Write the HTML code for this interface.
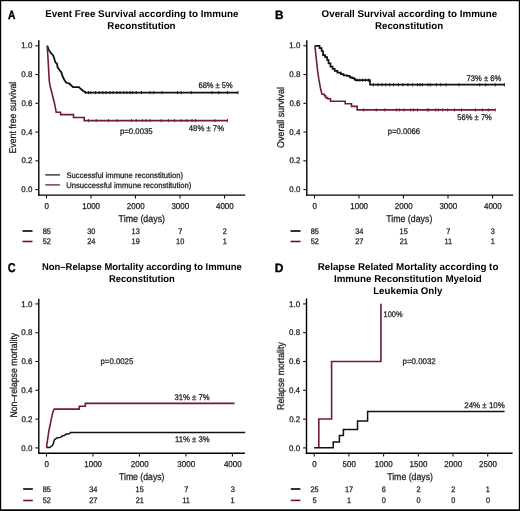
<!DOCTYPE html>
<html><head><meta charset="utf-8"><style>
html,body{margin:0;padding:0;background:#fff;}
svg{display:block;font-family:"Liberation Sans", sans-serif;will-change:transform;text-rendering:geometricPrecision;}
</style></head><body>
<svg width="520" height="511" viewBox="0 0 520 511">
<rect x="0" y="0" width="520" height="511" fill="#fff"/>
<line x1="38.80" y1="40.30" x2="38.80" y2="195.80" stroke="#000" stroke-width="1.4"/>
<line x1="38.10" y1="195.10" x2="245.20" y2="195.10" stroke="#000" stroke-width="1.4"/>
<line x1="35.40" y1="45.80" x2="38.80" y2="45.80" stroke="#111" stroke-width="1.1"/>
<text x="21.36" y="48.40" font-size="8.2" font-weight="normal" textLength="11.06" lengthAdjust="spacingAndGlyphs" fill="#1a1a1a" stroke="#1a1a1a" stroke-width="0.25">1.0</text>
<line x1="35.40" y1="74.56" x2="38.80" y2="74.56" stroke="#111" stroke-width="1.1"/>
<text x="21.36" y="77.16" font-size="8.2" font-weight="normal" textLength="11.06" lengthAdjust="spacingAndGlyphs" fill="#1a1a1a" stroke="#1a1a1a" stroke-width="0.25">0.8</text>
<line x1="35.40" y1="103.32" x2="38.80" y2="103.32" stroke="#111" stroke-width="1.1"/>
<text x="21.40" y="105.92" font-size="8.2" font-weight="normal" textLength="11.06" lengthAdjust="spacingAndGlyphs" fill="#1a1a1a" stroke="#1a1a1a" stroke-width="0.25">0.6</text>
<line x1="35.40" y1="132.08" x2="38.80" y2="132.08" stroke="#111" stroke-width="1.1"/>
<text x="21.28" y="134.68" font-size="8.2" font-weight="normal" textLength="11.06" lengthAdjust="spacingAndGlyphs" fill="#1a1a1a" stroke="#1a1a1a" stroke-width="0.25">0.4</text>
<line x1="35.40" y1="160.84" x2="38.80" y2="160.84" stroke="#111" stroke-width="1.1"/>
<text x="21.44" y="163.44" font-size="8.2" font-weight="normal" textLength="11.06" lengthAdjust="spacingAndGlyphs" fill="#1a1a1a" stroke="#1a1a1a" stroke-width="0.25">0.2</text>
<line x1="35.40" y1="189.60" x2="38.80" y2="189.60" stroke="#111" stroke-width="1.1"/>
<text x="21.36" y="192.20" font-size="8.2" font-weight="normal" textLength="11.06" lengthAdjust="spacingAndGlyphs" fill="#1a1a1a" stroke="#1a1a1a" stroke-width="0.25">0.0</text>
<line x1="46.50" y1="195.10" x2="46.50" y2="198.50" stroke="#111" stroke-width="1.1"/>
<text x="44.58" y="208.60" font-size="8.5" font-weight="normal" textLength="4.44" lengthAdjust="spacingAndGlyphs" fill="#1a1a1a" stroke="#1a1a1a" stroke-width="0.25">0</text>
<line x1="91.00" y1="195.10" x2="91.00" y2="198.50" stroke="#111" stroke-width="1.1"/>
<text x="82.27" y="208.60" font-size="8.5" font-weight="normal" textLength="17.78" lengthAdjust="spacingAndGlyphs" fill="#1a1a1a" stroke="#1a1a1a" stroke-width="0.25">1000</text>
<line x1="135.50" y1="195.10" x2="135.50" y2="198.50" stroke="#111" stroke-width="1.1"/>
<text x="126.87" y="208.60" font-size="8.5" font-weight="normal" textLength="17.78" lengthAdjust="spacingAndGlyphs" fill="#1a1a1a" stroke="#1a1a1a" stroke-width="0.25">2000</text>
<line x1="180.00" y1="195.10" x2="180.00" y2="198.50" stroke="#111" stroke-width="1.1"/>
<text x="171.41" y="208.60" font-size="8.5" font-weight="normal" textLength="17.78" lengthAdjust="spacingAndGlyphs" fill="#1a1a1a" stroke="#1a1a1a" stroke-width="0.25">3000</text>
<line x1="224.50" y1="195.10" x2="224.50" y2="198.50" stroke="#111" stroke-width="1.1"/>
<text x="215.97" y="208.60" font-size="8.5" font-weight="normal" textLength="17.78" lengthAdjust="spacingAndGlyphs" fill="#1a1a1a" stroke="#1a1a1a" stroke-width="0.25">4000</text>
<text x="7.94" y="18.50" font-size="12" font-weight="bold" textLength="7.44" lengthAdjust="spacingAndGlyphs" fill="#000" stroke="#000" stroke-width="0.35">A</text>
<text x="45.16" y="16.90" font-size="9.8" font-weight="bold" textLength="193.21" lengthAdjust="spacingAndGlyphs" fill="#000">Event Free Survival according to Immune</text>
<text x="107.37" y="28.90" font-size="9.8" font-weight="bold" textLength="68.22" lengthAdjust="spacingAndGlyphs" fill="#000">Reconstitution</text>
<text transform="translate(16.30,152.70) rotate(-90)" x="-0.70" y="0" font-size="9.8" textLength="71.67" lengthAdjust="spacingAndGlyphs" fill="#1a1a1a" stroke="#1a1a1a" stroke-width="0.25">Event free survival</text>
<text x="118.58" y="221.90" font-size="9.8" font-weight="normal" textLength="46.47" lengthAdjust="spacingAndGlyphs" fill="#1a1a1a" stroke="#1a1a1a" stroke-width="0.25">Time (days)</text>
<text x="198.52" y="88.00" font-size="8.2" font-weight="normal" textLength="34.15" lengthAdjust="spacingAndGlyphs" fill="#1a1a1a" stroke="#1a1a1a" stroke-width="0.25">68% ± 5%</text>
<text x="188.81" y="131.20" font-size="8.2" font-weight="normal" textLength="35.27" lengthAdjust="spacingAndGlyphs" fill="#1a1a1a" stroke="#1a1a1a" stroke-width="0.25">48% ± 7%</text>
<text x="119.89" y="133.60" font-size="8.2" font-weight="normal" textLength="32.81" lengthAdjust="spacingAndGlyphs" fill="#1a1a1a" stroke="#1a1a1a" stroke-width="0.25">p=0.0035</text>
<text x="66.46" y="178.10" font-size="8" font-weight="normal" textLength="116.53" lengthAdjust="spacingAndGlyphs" fill="#1a1a1a" stroke="#1a1a1a" stroke-width="0.25">Successful immune reconstitution)</text>
<text x="66.23" y="187.70" font-size="8" font-weight="normal" textLength="125.17" lengthAdjust="spacingAndGlyphs" fill="#1a1a1a" stroke="#1a1a1a" stroke-width="0.25">Unsuccessful immune reconstitution)</text>
<line x1="45.20" y1="174.90" x2="59.90" y2="174.90" stroke="#222" stroke-width="1.3"/>
<line x1="45.20" y1="184.90" x2="59.90" y2="184.90" stroke="#731a3a" stroke-width="1.3"/>
<path d="M47.20,45.80 L47.50,46.60 L48.80,49.90 L51.00,53.20 L53.20,55.40 L54.30,58.70 L55.40,62.50 L57.00,63.60 L57.60,67.40 L59.70,70.20 L61.40,72.40 L62.50,76.20 L64.10,79.50 L66.30,82.80 L69.10,83.30 L71.30,85.50 L72.90,87.20 L79.00,87.20 L80.60,88.80 L83.30,91.00 L86.00,92.60 H238.0" fill="none" stroke="#111" stroke-width="1.8" stroke-linejoin="miter" stroke-linecap="butt"/>
<path d="M47.20,45.80 L48.20,61.90 L49.20,80.00 L49.80,84.60 L51.50,91.50 L53.30,98.50 L54.40,103.00 L55.60,108.80 L56.20,112.30 H60.6 V114.6 H73.5 V117.5 H84.2 V120.6 H227.5" fill="none" stroke="#731a3a" stroke-width="1.6" stroke-linejoin="miter" stroke-linecap="butt"/>
<line x1="85.40" y1="91.00" x2="85.40" y2="94.20" stroke="#111" stroke-width="0.9"/>
<line x1="88.50" y1="91.00" x2="88.50" y2="94.20" stroke="#111" stroke-width="0.9"/>
<line x1="90.80" y1="91.00" x2="90.80" y2="94.20" stroke="#111" stroke-width="0.9"/>
<line x1="95.40" y1="91.00" x2="95.40" y2="94.20" stroke="#111" stroke-width="0.9"/>
<line x1="99.20" y1="91.00" x2="99.20" y2="94.20" stroke="#111" stroke-width="0.9"/>
<line x1="102.80" y1="91.00" x2="102.80" y2="94.20" stroke="#111" stroke-width="0.9"/>
<line x1="106.20" y1="91.00" x2="106.20" y2="94.20" stroke="#111" stroke-width="0.9"/>
<line x1="110.00" y1="91.00" x2="110.00" y2="94.20" stroke="#111" stroke-width="0.9"/>
<line x1="113.00" y1="91.00" x2="113.00" y2="94.20" stroke="#111" stroke-width="0.9"/>
<line x1="116.90" y1="91.00" x2="116.90" y2="94.20" stroke="#111" stroke-width="0.9"/>
<line x1="120.00" y1="91.00" x2="120.00" y2="94.20" stroke="#111" stroke-width="0.9"/>
<line x1="123.80" y1="91.00" x2="123.80" y2="94.20" stroke="#111" stroke-width="0.9"/>
<line x1="126.90" y1="91.00" x2="126.90" y2="94.20" stroke="#111" stroke-width="0.9"/>
<line x1="130.00" y1="91.00" x2="130.00" y2="94.20" stroke="#111" stroke-width="0.9"/>
<line x1="132.30" y1="91.00" x2="132.30" y2="94.20" stroke="#111" stroke-width="0.9"/>
<line x1="136.20" y1="91.00" x2="136.20" y2="94.20" stroke="#111" stroke-width="0.9"/>
<line x1="141.50" y1="91.00" x2="141.50" y2="94.20" stroke="#111" stroke-width="0.9"/>
<line x1="150.00" y1="91.00" x2="150.00" y2="94.20" stroke="#111" stroke-width="0.9"/>
<line x1="153.75" y1="91.00" x2="153.75" y2="94.20" stroke="#111" stroke-width="0.9"/>
<line x1="162.00" y1="91.00" x2="162.00" y2="94.20" stroke="#111" stroke-width="0.9"/>
<line x1="177.50" y1="91.00" x2="177.50" y2="94.20" stroke="#111" stroke-width="0.9"/>
<line x1="181.25" y1="91.00" x2="181.25" y2="94.20" stroke="#111" stroke-width="0.9"/>
<line x1="191.25" y1="91.00" x2="191.25" y2="94.20" stroke="#111" stroke-width="0.9"/>
<line x1="212.00" y1="91.00" x2="212.00" y2="94.20" stroke="#111" stroke-width="0.9"/>
<line x1="218.75" y1="91.00" x2="218.75" y2="94.20" stroke="#111" stroke-width="0.9"/>
<line x1="227.50" y1="91.00" x2="227.50" y2="94.20" stroke="#111" stroke-width="0.9"/>
<line x1="238.00" y1="91.00" x2="238.00" y2="94.20" stroke="#111" stroke-width="0.9"/>
<line x1="88.50" y1="119.00" x2="88.50" y2="122.20" stroke="#731a3a" stroke-width="0.9"/>
<line x1="96.20" y1="119.00" x2="96.20" y2="122.20" stroke="#731a3a" stroke-width="0.9"/>
<line x1="108.50" y1="119.00" x2="108.50" y2="122.20" stroke="#731a3a" stroke-width="0.9"/>
<line x1="116.90" y1="119.00" x2="116.90" y2="122.20" stroke="#731a3a" stroke-width="0.9"/>
<line x1="131.50" y1="119.00" x2="131.50" y2="122.20" stroke="#731a3a" stroke-width="0.9"/>
<line x1="136.20" y1="119.00" x2="136.20" y2="122.20" stroke="#731a3a" stroke-width="0.9"/>
<line x1="142.30" y1="119.00" x2="142.30" y2="122.20" stroke="#731a3a" stroke-width="0.9"/>
<line x1="146.20" y1="119.00" x2="146.20" y2="122.20" stroke="#731a3a" stroke-width="0.9"/>
<line x1="150.00" y1="119.00" x2="150.00" y2="122.20" stroke="#731a3a" stroke-width="0.9"/>
<line x1="161.25" y1="119.00" x2="161.25" y2="122.20" stroke="#731a3a" stroke-width="0.9"/>
<line x1="168.75" y1="119.00" x2="168.75" y2="122.20" stroke="#731a3a" stroke-width="0.9"/>
<line x1="174.50" y1="119.00" x2="174.50" y2="122.20" stroke="#731a3a" stroke-width="0.9"/>
<line x1="181.25" y1="119.00" x2="181.25" y2="122.20" stroke="#731a3a" stroke-width="0.9"/>
<line x1="187.00" y1="119.00" x2="187.00" y2="122.20" stroke="#731a3a" stroke-width="0.9"/>
<line x1="192.00" y1="119.00" x2="192.00" y2="122.20" stroke="#731a3a" stroke-width="0.9"/>
<line x1="195.50" y1="119.00" x2="195.50" y2="122.20" stroke="#731a3a" stroke-width="0.9"/>
<line x1="215.00" y1="119.00" x2="215.00" y2="122.20" stroke="#731a3a" stroke-width="0.9"/>
<line x1="227.50" y1="119.00" x2="227.50" y2="122.20" stroke="#731a3a" stroke-width="0.9"/>
<line x1="22.50" y1="231.00" x2="32.50" y2="231.00" stroke="#000" stroke-width="1.6"/>
<line x1="22.50" y1="241.50" x2="32.50" y2="241.50" stroke="#6e1030" stroke-width="1.6"/>
<text x="42.70" y="233.70" font-size="8.0" font-weight="normal" textLength="8.19" lengthAdjust="spacingAndGlyphs" fill="#1a1a1a" stroke="#1a1a1a" stroke-width="0.25">85</text>
<text x="42.75" y="243.80" font-size="8.0" font-weight="normal" textLength="8.19" lengthAdjust="spacingAndGlyphs" fill="#1a1a1a" stroke="#1a1a1a" stroke-width="0.25">52</text>
<text x="87.22" y="233.70" font-size="8.0" font-weight="normal" textLength="8.19" lengthAdjust="spacingAndGlyphs" fill="#1a1a1a" stroke="#1a1a1a" stroke-width="0.25">30</text>
<text x="87.14" y="243.80" font-size="8.0" font-weight="normal" textLength="8.19" lengthAdjust="spacingAndGlyphs" fill="#1a1a1a" stroke="#1a1a1a" stroke-width="0.25">24</text>
<text x="131.60" y="233.70" font-size="8.0" font-weight="normal" textLength="8.19" lengthAdjust="spacingAndGlyphs" fill="#1a1a1a" stroke="#1a1a1a" stroke-width="0.25">13</text>
<text x="131.60" y="243.80" font-size="8.0" font-weight="normal" textLength="8.19" lengthAdjust="spacingAndGlyphs" fill="#1a1a1a" stroke="#1a1a1a" stroke-width="0.25">19</text>
<text x="178.26" y="233.70" font-size="8.0" font-weight="normal" textLength="4.09" lengthAdjust="spacingAndGlyphs" fill="#1a1a1a" stroke="#1a1a1a" stroke-width="0.25">7</text>
<text x="176.09" y="243.80" font-size="8.0" font-weight="normal" textLength="8.19" lengthAdjust="spacingAndGlyphs" fill="#1a1a1a" stroke="#1a1a1a" stroke-width="0.25">10</text>
<text x="222.76" y="233.70" font-size="8.0" font-weight="normal" textLength="4.09" lengthAdjust="spacingAndGlyphs" fill="#1a1a1a" stroke="#1a1a1a" stroke-width="0.25">2</text>
<text x="222.67" y="243.80" font-size="8.0" font-weight="normal" textLength="4.09" lengthAdjust="spacingAndGlyphs" fill="#1a1a1a" stroke="#1a1a1a" stroke-width="0.25">1</text>
<line x1="306.80" y1="40.30" x2="306.80" y2="195.80" stroke="#000" stroke-width="1.4"/>
<line x1="306.10" y1="195.10" x2="513.20" y2="195.10" stroke="#000" stroke-width="1.4"/>
<line x1="303.40" y1="45.80" x2="306.80" y2="45.80" stroke="#111" stroke-width="1.1"/>
<text x="289.36" y="48.40" font-size="8.2" font-weight="normal" textLength="11.06" lengthAdjust="spacingAndGlyphs" fill="#1a1a1a" stroke="#1a1a1a" stroke-width="0.25">1.0</text>
<line x1="303.40" y1="74.56" x2="306.80" y2="74.56" stroke="#111" stroke-width="1.1"/>
<text x="289.36" y="77.16" font-size="8.2" font-weight="normal" textLength="11.06" lengthAdjust="spacingAndGlyphs" fill="#1a1a1a" stroke="#1a1a1a" stroke-width="0.25">0.8</text>
<line x1="303.40" y1="103.32" x2="306.80" y2="103.32" stroke="#111" stroke-width="1.1"/>
<text x="289.40" y="105.92" font-size="8.2" font-weight="normal" textLength="11.06" lengthAdjust="spacingAndGlyphs" fill="#1a1a1a" stroke="#1a1a1a" stroke-width="0.25">0.6</text>
<line x1="303.40" y1="132.08" x2="306.80" y2="132.08" stroke="#111" stroke-width="1.1"/>
<text x="289.28" y="134.68" font-size="8.2" font-weight="normal" textLength="11.06" lengthAdjust="spacingAndGlyphs" fill="#1a1a1a" stroke="#1a1a1a" stroke-width="0.25">0.4</text>
<line x1="303.40" y1="160.84" x2="306.80" y2="160.84" stroke="#111" stroke-width="1.1"/>
<text x="289.44" y="163.44" font-size="8.2" font-weight="normal" textLength="11.06" lengthAdjust="spacingAndGlyphs" fill="#1a1a1a" stroke="#1a1a1a" stroke-width="0.25">0.2</text>
<line x1="303.40" y1="189.60" x2="306.80" y2="189.60" stroke="#111" stroke-width="1.1"/>
<text x="289.36" y="192.20" font-size="8.2" font-weight="normal" textLength="11.06" lengthAdjust="spacingAndGlyphs" fill="#1a1a1a" stroke="#1a1a1a" stroke-width="0.25">0.0</text>
<line x1="314.50" y1="195.10" x2="314.50" y2="198.50" stroke="#111" stroke-width="1.1"/>
<text x="312.58" y="208.60" font-size="8.5" font-weight="normal" textLength="4.44" lengthAdjust="spacingAndGlyphs" fill="#1a1a1a" stroke="#1a1a1a" stroke-width="0.25">0</text>
<line x1="359.00" y1="195.10" x2="359.00" y2="198.50" stroke="#111" stroke-width="1.1"/>
<text x="350.27" y="208.60" font-size="8.5" font-weight="normal" textLength="17.78" lengthAdjust="spacingAndGlyphs" fill="#1a1a1a" stroke="#1a1a1a" stroke-width="0.25">1000</text>
<line x1="403.50" y1="195.10" x2="403.50" y2="198.50" stroke="#111" stroke-width="1.1"/>
<text x="394.87" y="208.60" font-size="8.5" font-weight="normal" textLength="17.78" lengthAdjust="spacingAndGlyphs" fill="#1a1a1a" stroke="#1a1a1a" stroke-width="0.25">2000</text>
<line x1="448.00" y1="195.10" x2="448.00" y2="198.50" stroke="#111" stroke-width="1.1"/>
<text x="439.41" y="208.60" font-size="8.5" font-weight="normal" textLength="17.78" lengthAdjust="spacingAndGlyphs" fill="#1a1a1a" stroke="#1a1a1a" stroke-width="0.25">3000</text>
<line x1="492.50" y1="195.10" x2="492.50" y2="198.50" stroke="#111" stroke-width="1.1"/>
<text x="483.97" y="208.60" font-size="8.5" font-weight="normal" textLength="17.78" lengthAdjust="spacingAndGlyphs" fill="#1a1a1a" stroke="#1a1a1a" stroke-width="0.25">4000</text>
<text x="275.03" y="18.50" font-size="12" font-weight="bold" textLength="8.52" lengthAdjust="spacingAndGlyphs" fill="#000" stroke="#000" stroke-width="0.35">B</text>
<text x="321.61" y="16.90" font-size="9.8" font-weight="bold" textLength="175.64" lengthAdjust="spacingAndGlyphs" fill="#000">Overall Survival according to Immune</text>
<text x="374.97" y="28.90" font-size="9.8" font-weight="bold" textLength="68.22" lengthAdjust="spacingAndGlyphs" fill="#000">Reconstitution</text>
<text transform="translate(284.30,147.50) rotate(-90)" x="-0.40" y="0" font-size="9.8" textLength="60.88" lengthAdjust="spacingAndGlyphs" fill="#1a1a1a" stroke="#1a1a1a" stroke-width="0.25">Overall survival</text>
<text x="386.18" y="221.90" font-size="9.8" font-weight="normal" textLength="46.16" lengthAdjust="spacingAndGlyphs" fill="#1a1a1a" stroke="#1a1a1a" stroke-width="0.25">Time (days)</text>
<text x="466.42" y="80.90" font-size="8.2" font-weight="normal" textLength="34.96" lengthAdjust="spacingAndGlyphs" fill="#1a1a1a" stroke="#1a1a1a" stroke-width="0.25">73% ± 6%</text>
<text x="457.30" y="119.80" font-size="8.2" font-weight="normal" textLength="34.58" lengthAdjust="spacingAndGlyphs" fill="#1a1a1a" stroke="#1a1a1a" stroke-width="0.25">56% ± 7%</text>
<text x="387.70" y="134.40" font-size="8.2" font-weight="normal" textLength="32.34" lengthAdjust="spacingAndGlyphs" fill="#1a1a1a" stroke="#1a1a1a" stroke-width="0.25">p=0.0066</text>
<path d="M314.70,45.90 H318.20 V45.90 H319.60 V48.20 H321.60 V51.00 H323.00 V55.10 H325.10 V57.10 H327.10 V59.90 H328.50 V63.30 H330.50 V66.70 H332.60 V68.80 H334.70 V70.80 H337.40 V72.60 H340.80 V74.20 H343.60 V75.30 H347.00 V75.90 H349.70 V77.30 H352.00 V78.20 H354.30 V79.20 H355.20 V80.20 H370.00 V84.60 H504.70" fill="none" stroke="#111" stroke-width="1.7" stroke-linejoin="miter" stroke-linecap="butt"/>
<path d="M314.90,46.20 L316.20,57.80 L317.50,70.10 L318.90,79.70 L320.70,89.30 L322.00,94.30 H324.4 V95.8 H325.6 V97.6 H327.6 V98.8 H330.5 V101.2 H345.2 V103.7 H351.5 V106.4 H357.2 V109.9 H495.2" fill="none" stroke="#731a3a" stroke-width="1.6" stroke-linejoin="miter" stroke-linecap="butt"/>
<line x1="357.00" y1="78.60" x2="357.00" y2="81.80" stroke="#111" stroke-width="0.9"/>
<line x1="359.80" y1="78.60" x2="359.80" y2="81.80" stroke="#111" stroke-width="0.9"/>
<line x1="362.70" y1="78.60" x2="362.70" y2="81.80" stroke="#111" stroke-width="0.9"/>
<line x1="365.60" y1="78.60" x2="365.60" y2="81.80" stroke="#111" stroke-width="0.9"/>
<line x1="368.50" y1="78.60" x2="368.50" y2="81.80" stroke="#111" stroke-width="0.9"/>
<line x1="373.30" y1="83.20" x2="373.30" y2="86.40" stroke="#111" stroke-width="0.9"/>
<line x1="378.00" y1="83.20" x2="378.00" y2="86.40" stroke="#111" stroke-width="0.9"/>
<line x1="381.90" y1="83.20" x2="381.90" y2="86.40" stroke="#111" stroke-width="0.9"/>
<line x1="385.80" y1="83.20" x2="385.80" y2="86.40" stroke="#111" stroke-width="0.9"/>
<line x1="389.60" y1="83.20" x2="389.60" y2="86.40" stroke="#111" stroke-width="0.9"/>
<line x1="393.50" y1="83.20" x2="393.50" y2="86.40" stroke="#111" stroke-width="0.9"/>
<line x1="398.30" y1="83.20" x2="398.30" y2="86.40" stroke="#111" stroke-width="0.9"/>
<line x1="403.00" y1="83.20" x2="403.00" y2="86.40" stroke="#111" stroke-width="0.9"/>
<line x1="407.90" y1="83.20" x2="407.90" y2="86.40" stroke="#111" stroke-width="0.9"/>
<line x1="412.70" y1="83.20" x2="412.70" y2="86.40" stroke="#111" stroke-width="0.9"/>
<line x1="417.50" y1="83.20" x2="417.50" y2="86.40" stroke="#111" stroke-width="0.9"/>
<line x1="420.00" y1="83.20" x2="420.00" y2="86.40" stroke="#111" stroke-width="0.9"/>
<line x1="422.30" y1="83.20" x2="422.30" y2="86.40" stroke="#111" stroke-width="0.9"/>
<line x1="428.10" y1="83.20" x2="428.10" y2="86.40" stroke="#111" stroke-width="0.9"/>
<line x1="430.40" y1="83.20" x2="430.40" y2="86.40" stroke="#111" stroke-width="0.9"/>
<line x1="436.40" y1="83.20" x2="436.40" y2="86.40" stroke="#111" stroke-width="0.9"/>
<line x1="440.80" y1="83.20" x2="440.80" y2="86.40" stroke="#111" stroke-width="0.9"/>
<line x1="446.00" y1="83.20" x2="446.00" y2="86.40" stroke="#111" stroke-width="0.9"/>
<line x1="458.90" y1="83.20" x2="458.90" y2="86.40" stroke="#111" stroke-width="0.9"/>
<line x1="479.70" y1="83.20" x2="479.70" y2="86.40" stroke="#111" stroke-width="0.9"/>
<line x1="485.70" y1="83.20" x2="485.70" y2="86.40" stroke="#111" stroke-width="0.9"/>
<line x1="495.30" y1="83.20" x2="495.30" y2="86.40" stroke="#111" stroke-width="0.9"/>
<line x1="504.40" y1="83.20" x2="504.40" y2="86.40" stroke="#111" stroke-width="0.9"/>
<line x1="363.70" y1="108.30" x2="363.70" y2="111.50" stroke="#731a3a" stroke-width="0.9"/>
<line x1="376.20" y1="108.30" x2="376.20" y2="111.50" stroke="#731a3a" stroke-width="0.9"/>
<line x1="384.80" y1="108.30" x2="384.80" y2="111.50" stroke="#731a3a" stroke-width="0.9"/>
<line x1="396.30" y1="108.30" x2="396.30" y2="111.50" stroke="#731a3a" stroke-width="0.9"/>
<line x1="399.20" y1="108.30" x2="399.20" y2="111.50" stroke="#731a3a" stroke-width="0.9"/>
<line x1="404.00" y1="108.30" x2="404.00" y2="111.50" stroke="#731a3a" stroke-width="0.9"/>
<line x1="410.80" y1="108.30" x2="410.80" y2="111.50" stroke="#731a3a" stroke-width="0.9"/>
<line x1="413.70" y1="108.30" x2="413.70" y2="111.50" stroke="#731a3a" stroke-width="0.9"/>
<line x1="417.50" y1="108.30" x2="417.50" y2="111.50" stroke="#731a3a" stroke-width="0.9"/>
<line x1="427.10" y1="108.30" x2="427.10" y2="111.50" stroke="#731a3a" stroke-width="0.9"/>
<line x1="428.70" y1="108.30" x2="428.70" y2="111.50" stroke="#731a3a" stroke-width="0.9"/>
<line x1="435.60" y1="108.30" x2="435.60" y2="111.50" stroke="#731a3a" stroke-width="0.9"/>
<line x1="438.20" y1="108.30" x2="438.20" y2="111.50" stroke="#731a3a" stroke-width="0.9"/>
<line x1="442.50" y1="108.30" x2="442.50" y2="111.50" stroke="#731a3a" stroke-width="0.9"/>
<line x1="447.70" y1="108.30" x2="447.70" y2="111.50" stroke="#731a3a" stroke-width="0.9"/>
<line x1="454.60" y1="108.30" x2="454.60" y2="111.50" stroke="#731a3a" stroke-width="0.9"/>
<line x1="461.50" y1="108.30" x2="461.50" y2="111.50" stroke="#731a3a" stroke-width="0.9"/>
<line x1="475.40" y1="108.30" x2="475.40" y2="111.50" stroke="#731a3a" stroke-width="0.9"/>
<line x1="482.30" y1="108.30" x2="482.30" y2="111.50" stroke="#731a3a" stroke-width="0.9"/>
<line x1="488.30" y1="108.30" x2="488.30" y2="111.50" stroke="#731a3a" stroke-width="0.9"/>
<line x1="495.30" y1="108.30" x2="495.30" y2="111.50" stroke="#731a3a" stroke-width="0.9"/>
<line x1="290.50" y1="231.00" x2="300.50" y2="231.00" stroke="#000" stroke-width="1.6"/>
<line x1="290.50" y1="241.50" x2="300.50" y2="241.50" stroke="#6e1030" stroke-width="1.6"/>
<text x="310.70" y="233.70" font-size="8.0" font-weight="normal" textLength="8.19" lengthAdjust="spacingAndGlyphs" fill="#1a1a1a" stroke="#1a1a1a" stroke-width="0.25">85</text>
<text x="310.75" y="243.80" font-size="8.0" font-weight="normal" textLength="8.19" lengthAdjust="spacingAndGlyphs" fill="#1a1a1a" stroke="#1a1a1a" stroke-width="0.25">52</text>
<text x="355.18" y="233.70" font-size="8.0" font-weight="normal" textLength="8.19" lengthAdjust="spacingAndGlyphs" fill="#1a1a1a" stroke="#1a1a1a" stroke-width="0.25">34</text>
<text x="355.22" y="243.80" font-size="8.0" font-weight="normal" textLength="8.19" lengthAdjust="spacingAndGlyphs" fill="#1a1a1a" stroke="#1a1a1a" stroke-width="0.25">27</text>
<text x="399.59" y="233.70" font-size="8.0" font-weight="normal" textLength="8.19" lengthAdjust="spacingAndGlyphs" fill="#1a1a1a" stroke="#1a1a1a" stroke-width="0.25">15</text>
<text x="399.72" y="243.80" font-size="8.0" font-weight="normal" textLength="8.19" lengthAdjust="spacingAndGlyphs" fill="#1a1a1a" stroke="#1a1a1a" stroke-width="0.25">21</text>
<text x="446.26" y="233.70" font-size="8.0" font-weight="normal" textLength="4.09" lengthAdjust="spacingAndGlyphs" fill="#1a1a1a" stroke="#1a1a1a" stroke-width="0.25">7</text>
<text x="444.40" y="243.80" font-size="8.0" font-weight="normal" textLength="7.64" lengthAdjust="spacingAndGlyphs" fill="#1a1a1a" stroke="#1a1a1a" stroke-width="0.25">11</text>
<text x="490.78" y="233.70" font-size="8.0" font-weight="normal" textLength="4.09" lengthAdjust="spacingAndGlyphs" fill="#1a1a1a" stroke="#1a1a1a" stroke-width="0.25">3</text>
<text x="490.67" y="243.80" font-size="8.0" font-weight="normal" textLength="4.09" lengthAdjust="spacingAndGlyphs" fill="#1a1a1a" stroke="#1a1a1a" stroke-width="0.25">1</text>
<line x1="38.80" y1="298.80" x2="38.80" y2="453.90" stroke="#000" stroke-width="1.4"/>
<line x1="38.10" y1="453.20" x2="244.90" y2="453.20" stroke="#000" stroke-width="1.4"/>
<line x1="35.40" y1="303.90" x2="38.80" y2="303.90" stroke="#111" stroke-width="1.1"/>
<text x="21.36" y="306.50" font-size="8.2" font-weight="normal" textLength="11.06" lengthAdjust="spacingAndGlyphs" fill="#1a1a1a" stroke="#1a1a1a" stroke-width="0.25">1.0</text>
<line x1="35.40" y1="332.70" x2="38.80" y2="332.70" stroke="#111" stroke-width="1.1"/>
<text x="21.36" y="335.30" font-size="8.2" font-weight="normal" textLength="11.06" lengthAdjust="spacingAndGlyphs" fill="#1a1a1a" stroke="#1a1a1a" stroke-width="0.25">0.8</text>
<line x1="35.40" y1="361.50" x2="38.80" y2="361.50" stroke="#111" stroke-width="1.1"/>
<text x="21.40" y="364.10" font-size="8.2" font-weight="normal" textLength="11.06" lengthAdjust="spacingAndGlyphs" fill="#1a1a1a" stroke="#1a1a1a" stroke-width="0.25">0.6</text>
<line x1="35.40" y1="390.30" x2="38.80" y2="390.30" stroke="#111" stroke-width="1.1"/>
<text x="21.28" y="392.90" font-size="8.2" font-weight="normal" textLength="11.06" lengthAdjust="spacingAndGlyphs" fill="#1a1a1a" stroke="#1a1a1a" stroke-width="0.25">0.4</text>
<line x1="35.40" y1="419.10" x2="38.80" y2="419.10" stroke="#111" stroke-width="1.1"/>
<text x="21.44" y="421.70" font-size="8.2" font-weight="normal" textLength="11.06" lengthAdjust="spacingAndGlyphs" fill="#1a1a1a" stroke="#1a1a1a" stroke-width="0.25">0.2</text>
<line x1="35.40" y1="447.90" x2="38.80" y2="447.90" stroke="#111" stroke-width="1.1"/>
<text x="21.36" y="450.50" font-size="8.2" font-weight="normal" textLength="11.06" lengthAdjust="spacingAndGlyphs" fill="#1a1a1a" stroke="#1a1a1a" stroke-width="0.25">0.0</text>
<line x1="46.50" y1="453.20" x2="46.50" y2="456.60" stroke="#111" stroke-width="1.1"/>
<text x="44.58" y="467.00" font-size="8.5" font-weight="normal" textLength="4.44" lengthAdjust="spacingAndGlyphs" fill="#1a1a1a" stroke="#1a1a1a" stroke-width="0.25">0</text>
<line x1="92.98" y1="453.20" x2="92.98" y2="456.60" stroke="#111" stroke-width="1.1"/>
<text x="84.25" y="467.00" font-size="8.5" font-weight="normal" textLength="17.78" lengthAdjust="spacingAndGlyphs" fill="#1a1a1a" stroke="#1a1a1a" stroke-width="0.25">1000</text>
<line x1="139.46" y1="453.20" x2="139.46" y2="456.60" stroke="#111" stroke-width="1.1"/>
<text x="130.83" y="467.00" font-size="8.5" font-weight="normal" textLength="17.78" lengthAdjust="spacingAndGlyphs" fill="#1a1a1a" stroke="#1a1a1a" stroke-width="0.25">2000</text>
<line x1="185.94" y1="453.20" x2="185.94" y2="456.60" stroke="#111" stroke-width="1.1"/>
<text x="177.35" y="467.00" font-size="8.5" font-weight="normal" textLength="17.78" lengthAdjust="spacingAndGlyphs" fill="#1a1a1a" stroke="#1a1a1a" stroke-width="0.25">3000</text>
<line x1="232.42" y1="453.20" x2="232.42" y2="456.60" stroke="#111" stroke-width="1.1"/>
<text x="223.89" y="467.00" font-size="8.5" font-weight="normal" textLength="17.78" lengthAdjust="spacingAndGlyphs" fill="#1a1a1a" stroke="#1a1a1a" stroke-width="0.25">4000</text>
<text x="7.87" y="272.40" font-size="12.8" font-weight="bold" textLength="7.83" lengthAdjust="spacingAndGlyphs" fill="#000" stroke="#000" stroke-width="0.35">C</text>
<text x="41.99" y="270.20" font-size="9.8" font-weight="bold" textLength="199.75" lengthAdjust="spacingAndGlyphs" fill="#000">Non–Relapse Mortality according to Immune</text>
<text x="108.99" y="282.20" font-size="9.8" font-weight="bold" textLength="65.77" lengthAdjust="spacingAndGlyphs" fill="#000">Reconstitution</text>
<text transform="translate(16.60,416.90) rotate(-90)" x="-0.70" y="0" font-size="9.8" textLength="84.76" lengthAdjust="spacingAndGlyphs" fill="#1a1a1a" stroke="#1a1a1a" stroke-width="0.25">Non–relapse mortality</text>
<text x="118.98" y="480.00" font-size="9.8" font-weight="normal" textLength="45.55" lengthAdjust="spacingAndGlyphs" fill="#1a1a1a" stroke="#1a1a1a" stroke-width="0.25">Time (days)</text>
<text x="100.49" y="364.30" font-size="8.2" font-weight="normal" textLength="32.81" lengthAdjust="spacingAndGlyphs" fill="#1a1a1a" stroke="#1a1a1a" stroke-width="0.25">p=0.0025</text>
<text x="174.39" y="400.00" font-size="8.2" font-weight="normal" textLength="35.19" lengthAdjust="spacingAndGlyphs" fill="#1a1a1a" stroke="#1a1a1a" stroke-width="0.25">31% ± 7%</text>
<text x="175.02" y="441.50" font-size="8.2" font-weight="normal" textLength="34.53" lengthAdjust="spacingAndGlyphs" fill="#1a1a1a" stroke="#1a1a1a" stroke-width="0.25">11% ± 3%</text>
<path d="M46.50,447.50 L47.60,439.60 L48.80,431.40 L50.00,425.50 L51.20,419.60 L52.30,414.40 L53.10,411.40 L54.30,409.10 H79.3 V406.3 H85.3 V403.4 H234.5" fill="none" stroke="#731a3a" stroke-width="1.6" stroke-linejoin="miter" stroke-linecap="butt"/>
<path d="M46.50,447.40 L49.80,447.40 L50.50,446.80 L52.00,445.80 L53.20,444.20 L53.80,441.70 L54.50,439.60 L55.70,438.90 L56.60,438.10 L57.80,437.70 L60.30,437.40 L61.20,436.80 L62.50,435.80 L64.30,435.50 L65.20,434.90 L66.20,434.10 L68.30,434.10 L69.80,433.40 L70.50,432.40 H245.2" fill="none" stroke="#111" stroke-width="1.5" stroke-linejoin="miter" stroke-linecap="butt"/>
<line x1="23.20" y1="489.00" x2="32.80" y2="489.00" stroke="#000" stroke-width="1.6"/>
<line x1="23.20" y1="500.50" x2="32.80" y2="500.50" stroke="#6e1030" stroke-width="1.6"/>
<text x="42.70" y="491.90" font-size="8.0" font-weight="normal" textLength="8.19" lengthAdjust="spacingAndGlyphs" fill="#1a1a1a" stroke="#1a1a1a" stroke-width="0.25">85</text>
<text x="42.75" y="502.90" font-size="8.0" font-weight="normal" textLength="8.19" lengthAdjust="spacingAndGlyphs" fill="#1a1a1a" stroke="#1a1a1a" stroke-width="0.25">52</text>
<text x="89.16" y="491.90" font-size="8.0" font-weight="normal" textLength="8.19" lengthAdjust="spacingAndGlyphs" fill="#1a1a1a" stroke="#1a1a1a" stroke-width="0.25">34</text>
<text x="89.20" y="502.90" font-size="8.0" font-weight="normal" textLength="8.19" lengthAdjust="spacingAndGlyphs" fill="#1a1a1a" stroke="#1a1a1a" stroke-width="0.25">27</text>
<text x="135.55" y="491.90" font-size="8.0" font-weight="normal" textLength="8.19" lengthAdjust="spacingAndGlyphs" fill="#1a1a1a" stroke="#1a1a1a" stroke-width="0.25">15</text>
<text x="135.68" y="502.90" font-size="8.0" font-weight="normal" textLength="8.19" lengthAdjust="spacingAndGlyphs" fill="#1a1a1a" stroke="#1a1a1a" stroke-width="0.25">21</text>
<text x="184.20" y="491.90" font-size="8.0" font-weight="normal" textLength="4.09" lengthAdjust="spacingAndGlyphs" fill="#1a1a1a" stroke="#1a1a1a" stroke-width="0.25">7</text>
<text x="182.34" y="502.90" font-size="8.0" font-weight="normal" textLength="7.64" lengthAdjust="spacingAndGlyphs" fill="#1a1a1a" stroke="#1a1a1a" stroke-width="0.25">11</text>
<text x="230.70" y="491.90" font-size="8.0" font-weight="normal" textLength="4.09" lengthAdjust="spacingAndGlyphs" fill="#1a1a1a" stroke="#1a1a1a" stroke-width="0.25">3</text>
<text x="230.59" y="502.90" font-size="8.0" font-weight="normal" textLength="4.09" lengthAdjust="spacingAndGlyphs" fill="#1a1a1a" stroke="#1a1a1a" stroke-width="0.25">1</text>
<line x1="306.50" y1="298.50" x2="306.50" y2="453.90" stroke="#000" stroke-width="1.4"/>
<line x1="305.80" y1="453.20" x2="512.60" y2="453.20" stroke="#000" stroke-width="1.4"/>
<line x1="303.10" y1="303.90" x2="306.50" y2="303.90" stroke="#111" stroke-width="1.1"/>
<text x="289.06" y="306.50" font-size="8.2" font-weight="normal" textLength="11.06" lengthAdjust="spacingAndGlyphs" fill="#1a1a1a" stroke="#1a1a1a" stroke-width="0.25">1.0</text>
<line x1="303.10" y1="332.70" x2="306.50" y2="332.70" stroke="#111" stroke-width="1.1"/>
<text x="289.06" y="335.30" font-size="8.2" font-weight="normal" textLength="11.06" lengthAdjust="spacingAndGlyphs" fill="#1a1a1a" stroke="#1a1a1a" stroke-width="0.25">0.8</text>
<line x1="303.10" y1="361.50" x2="306.50" y2="361.50" stroke="#111" stroke-width="1.1"/>
<text x="289.10" y="364.10" font-size="8.2" font-weight="normal" textLength="11.06" lengthAdjust="spacingAndGlyphs" fill="#1a1a1a" stroke="#1a1a1a" stroke-width="0.25">0.6</text>
<line x1="303.10" y1="390.30" x2="306.50" y2="390.30" stroke="#111" stroke-width="1.1"/>
<text x="288.98" y="392.90" font-size="8.2" font-weight="normal" textLength="11.06" lengthAdjust="spacingAndGlyphs" fill="#1a1a1a" stroke="#1a1a1a" stroke-width="0.25">0.4</text>
<line x1="303.10" y1="419.10" x2="306.50" y2="419.10" stroke="#111" stroke-width="1.1"/>
<text x="289.14" y="421.70" font-size="8.2" font-weight="normal" textLength="11.06" lengthAdjust="spacingAndGlyphs" fill="#1a1a1a" stroke="#1a1a1a" stroke-width="0.25">0.2</text>
<line x1="303.10" y1="447.90" x2="306.50" y2="447.90" stroke="#111" stroke-width="1.1"/>
<text x="289.06" y="450.50" font-size="8.2" font-weight="normal" textLength="11.06" lengthAdjust="spacingAndGlyphs" fill="#1a1a1a" stroke="#1a1a1a" stroke-width="0.25">0.0</text>
<line x1="314.20" y1="453.20" x2="314.20" y2="456.60" stroke="#111" stroke-width="1.1"/>
<text x="312.28" y="466.80" font-size="8.5" font-weight="normal" textLength="4.44" lengthAdjust="spacingAndGlyphs" fill="#1a1a1a" stroke="#1a1a1a" stroke-width="0.25">0</text>
<line x1="348.90" y1="453.20" x2="348.90" y2="456.60" stroke="#111" stroke-width="1.1"/>
<text x="342.55" y="466.80" font-size="8.5" font-weight="normal" textLength="13.33" lengthAdjust="spacingAndGlyphs" fill="#1a1a1a" stroke="#1a1a1a" stroke-width="0.25">500</text>
<line x1="383.60" y1="453.20" x2="383.60" y2="456.60" stroke="#111" stroke-width="1.1"/>
<text x="374.87" y="466.80" font-size="8.5" font-weight="normal" textLength="17.78" lengthAdjust="spacingAndGlyphs" fill="#1a1a1a" stroke="#1a1a1a" stroke-width="0.25">1000</text>
<line x1="418.30" y1="453.20" x2="418.30" y2="456.60" stroke="#111" stroke-width="1.1"/>
<text x="409.57" y="466.80" font-size="8.5" font-weight="normal" textLength="17.78" lengthAdjust="spacingAndGlyphs" fill="#1a1a1a" stroke="#1a1a1a" stroke-width="0.25">1500</text>
<line x1="453.00" y1="453.20" x2="453.00" y2="456.60" stroke="#111" stroke-width="1.1"/>
<text x="444.37" y="466.80" font-size="8.5" font-weight="normal" textLength="17.78" lengthAdjust="spacingAndGlyphs" fill="#1a1a1a" stroke="#1a1a1a" stroke-width="0.25">2000</text>
<line x1="487.70" y1="453.20" x2="487.70" y2="456.60" stroke="#111" stroke-width="1.1"/>
<text x="479.07" y="466.80" font-size="8.5" font-weight="normal" textLength="17.78" lengthAdjust="spacingAndGlyphs" fill="#1a1a1a" stroke="#1a1a1a" stroke-width="0.25">2500</text>
<text x="274.82" y="272.20" font-size="12" font-weight="bold" textLength="8.69" lengthAdjust="spacingAndGlyphs" fill="#000" stroke="#000" stroke-width="0.35">D</text>
<text x="317.66" y="270.10" font-size="9.8" font-weight="bold" textLength="180.72" lengthAdjust="spacingAndGlyphs" fill="#000">Relapse Related Mortality according to</text>
<text x="333.96" y="282.00" font-size="9.8" font-weight="bold" textLength="147.89" lengthAdjust="spacingAndGlyphs" fill="#000">Immune Reconstitution Myeloid</text>
<text x="373.17" y="293.80" font-size="9.8" font-weight="bold" textLength="69.27" lengthAdjust="spacingAndGlyphs" fill="#000">Leukemia Only</text>
<text transform="translate(284.00,409.20) rotate(-90)" x="-0.70" y="0" font-size="9.8" textLength="67.65" lengthAdjust="spacingAndGlyphs" fill="#1a1a1a" stroke="#1a1a1a" stroke-width="0.25">Relapse mortality</text>
<text x="387.18" y="480.00" font-size="9.8" font-weight="normal" textLength="45.75" lengthAdjust="spacingAndGlyphs" fill="#1a1a1a" stroke="#1a1a1a" stroke-width="0.25">Time (days)</text>
<text x="383.54" y="317.00" font-size="8.2" font-weight="normal" textLength="19.10" lengthAdjust="spacingAndGlyphs" fill="#1a1a1a" stroke="#1a1a1a" stroke-width="0.25">100%</text>
<text x="402.59" y="364.30" font-size="8.2" font-weight="normal" textLength="33.10" lengthAdjust="spacingAndGlyphs" fill="#1a1a1a" stroke="#1a1a1a" stroke-width="0.25">p=0.0032</text>
<text x="464.30" y="407.80" font-size="8.2" font-weight="normal" textLength="40.45" lengthAdjust="spacingAndGlyphs" fill="#1a1a1a" stroke="#1a1a1a" stroke-width="0.25">24% ± 10%</text>
<path d="M318.8,447.7 V419.0 H331.6 V361.5 H380.9 V303.8" fill="none" stroke="#731a3a" stroke-width="1.6" stroke-linejoin="miter" stroke-linecap="butt"/>
<path d="M314.2,447.7 H333.2 V441.9 H339.4 V435.6 H343.4 V429.6 H357.5 V421.1 H367.6 V411.6 H504.6" fill="none" stroke="#111" stroke-width="1.5" stroke-linejoin="miter" stroke-linecap="butt"/>
<line x1="290.80" y1="489.00" x2="300.40" y2="489.00" stroke="#000" stroke-width="1.6"/>
<line x1="290.80" y1="500.40" x2="300.40" y2="500.40" stroke="#6e1030" stroke-width="1.6"/>
<text x="310.38" y="491.90" font-size="8.0" font-weight="normal" textLength="8.19" lengthAdjust="spacingAndGlyphs" fill="#1a1a1a" stroke="#1a1a1a" stroke-width="0.25">25</text>
<text x="312.46" y="502.90" font-size="8.0" font-weight="normal" textLength="4.09" lengthAdjust="spacingAndGlyphs" fill="#1a1a1a" stroke="#1a1a1a" stroke-width="0.25">5</text>
<text x="345.02" y="491.90" font-size="8.0" font-weight="normal" textLength="8.19" lengthAdjust="spacingAndGlyphs" fill="#1a1a1a" stroke="#1a1a1a" stroke-width="0.25">17</text>
<text x="347.07" y="502.90" font-size="8.0" font-weight="normal" textLength="4.09" lengthAdjust="spacingAndGlyphs" fill="#1a1a1a" stroke="#1a1a1a" stroke-width="0.25">1</text>
<text x="381.84" y="491.90" font-size="8.0" font-weight="normal" textLength="4.09" lengthAdjust="spacingAndGlyphs" fill="#1a1a1a" stroke="#1a1a1a" stroke-width="0.25">6</text>
<text x="381.86" y="502.90" font-size="8.0" font-weight="normal" textLength="4.09" lengthAdjust="spacingAndGlyphs" fill="#1a1a1a" stroke="#1a1a1a" stroke-width="0.25">0</text>
<text x="416.56" y="491.90" font-size="8.0" font-weight="normal" textLength="4.09" lengthAdjust="spacingAndGlyphs" fill="#1a1a1a" stroke="#1a1a1a" stroke-width="0.25">2</text>
<text x="416.56" y="502.90" font-size="8.0" font-weight="normal" textLength="4.09" lengthAdjust="spacingAndGlyphs" fill="#1a1a1a" stroke="#1a1a1a" stroke-width="0.25">0</text>
<text x="451.26" y="491.90" font-size="8.0" font-weight="normal" textLength="4.09" lengthAdjust="spacingAndGlyphs" fill="#1a1a1a" stroke="#1a1a1a" stroke-width="0.25">2</text>
<text x="451.26" y="502.90" font-size="8.0" font-weight="normal" textLength="4.09" lengthAdjust="spacingAndGlyphs" fill="#1a1a1a" stroke="#1a1a1a" stroke-width="0.25">0</text>
<text x="485.87" y="491.90" font-size="8.0" font-weight="normal" textLength="4.09" lengthAdjust="spacingAndGlyphs" fill="#1a1a1a" stroke="#1a1a1a" stroke-width="0.25">1</text>
<text x="485.96" y="502.90" font-size="8.0" font-weight="normal" textLength="4.09" lengthAdjust="spacingAndGlyphs" fill="#1a1a1a" stroke="#1a1a1a" stroke-width="0.25">0</text>
<rect x="0" y="0" width="520" height="1.2" fill="#000"/>
<rect x="0" y="0" width="1.2" height="511" fill="#000"/>
<rect x="518.8" y="0" width="1.2" height="511" fill="#000"/>
<rect x="0" y="509.3" width="520" height="1.7" fill="#000"/>
</svg>
</body></html>
